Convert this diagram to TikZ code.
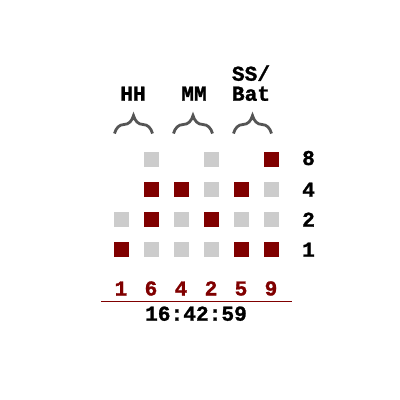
\documentclass[tikz,border=0pt]{standalone}
\usepackage{fontspec}
\setmonofont{Liberation Mono}[BoldFeatures={FakeBold=1.2}]
\usetikzlibrary{decorations.pathreplacing}
\definecolor{dred}{HTML}{800000}
\definecolor{lgrey}{HTML}{CCCCCC}
\definecolor{bgrey}{HTML}{555555}
\tikzset{
  on/.style={fill=dred,draw=none,minimum size=15pt,inner sep=0pt},
  off/.style={fill=lgrey,draw=none,minimum size=15pt,inner sep=0pt},
  txt/.style={font=\ttfamily\bfseries\fontsize{21.2}{23}\selectfont,inner sep=0pt,anchor=base},
  rtxt/.style={txt,text=dred},
  brc/.style={draw=bgrey,line width=2.8pt,decorate,decoration={brace,amplitude=18pt,aspect=0.5}}
}
\begin{document}
\begin{tikzpicture}[x=1pt,y=-1pt]
\useasboundingbox (0,0) rectangle (400,400);
% headers
\node[txt] (hh) at (133,100.7) {HH};
\node[txt] (mm) at (194,100.7) {MM};
\node[txt] (ss) at (251,80.7) {SS/};
\node[txt] (bat) at (251,100.7) {Bat};
% braces
\coordinate (b1a) at (114.5,133.5); \coordinate (b1b) at (152.5,133.5);
\coordinate (b2a) at (173.5,133.5); \coordinate (b2b) at (212.5,133.5);
\coordinate (b3a) at (233.5,133.5); \coordinate (b3b) at (271.5,133.5);
\draw[brc] (b1a) -- (b1b);
\draw[brc] (b2a) -- (b2b);
\draw[brc] (b3a) -- (b3b);
% row 8
\node[off] (s28) at (151.5,159.5) {};
\node[off] (s48) at (211.5,159.5) {};
\node[on]  (s68) at (271.5,159.5) {};
% row 4
\node[on]  (s24) at (151.5,189.5) {};
\node[on]  (s34) at (181.5,189.5) {};
\node[off] (s44) at (211.5,189.5) {};
\node[on]  (s54) at (241.5,189.5) {};
\node[off] (s64) at (271.5,189.5) {};
% row 2
\node[off] (s12) at (121.5,219.5) {};
\node[on]  (s22) at (151.5,219.5) {};
\node[off] (s32) at (181.5,219.5) {};
\node[on]  (s42) at (211.5,219.5) {};
\node[off] (s52) at (241.5,219.5) {};
\node[off] (s62) at (271.5,219.5) {};
% row 1
\node[on]  (s11) at (121.5,249.5) {};
\node[off] (s21) at (151.5,249.5) {};
\node[off] (s31) at (181.5,249.5) {};
\node[off] (s41) at (211.5,249.5) {};
\node[on]  (s51) at (241.5,249.5) {};
\node[on]  (s61) at (271.5,249.5) {};
% weights
\node[txt] (w8) at (308.5,165) {8};
\node[txt] (w4) at (308.5,196.7) {4};
\node[txt] (w2) at (308.5,226.7) {2};
\node[txt] (w1) at (308.5,256.7) {1};
% digits
\node[rtxt] (d1) at (121,295.5) {1};
\node[rtxt] (d2) at (151,295.5) {6};
\node[rtxt] (d3) at (181,295.5) {4};
\node[rtxt] (d4) at (211,295.5) {2};
\node[rtxt] (d5) at (241,295.5) {5};
\node[rtxt] (d6) at (271,295.5) {9};
% line
\coordinate (la) at (101,301.5); \coordinate (lb) at (291.5,301.5);
\draw[dred,line width=1pt] (la) -- (lb);
% time
\node[txt] (time) at (196,320.7) {16:42:59};
\end{tikzpicture}
\end{document}
